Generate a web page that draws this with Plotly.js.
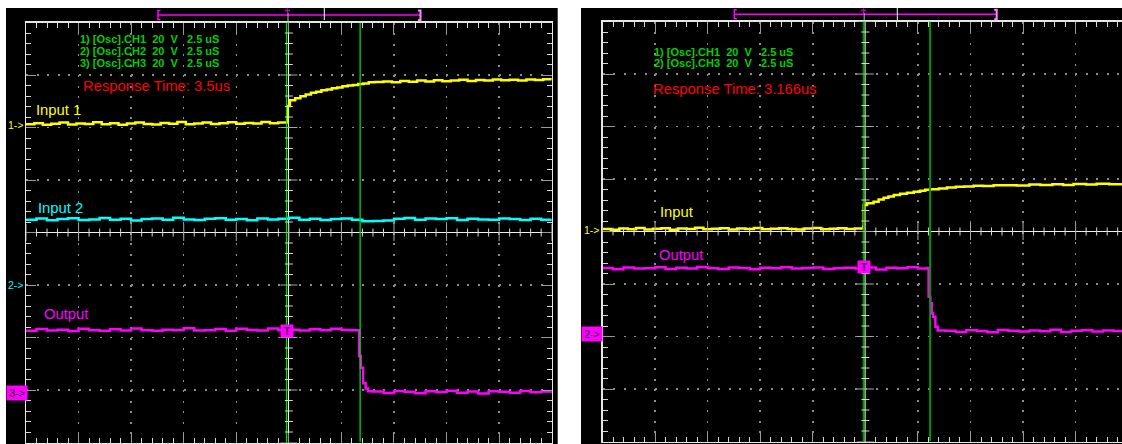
<!DOCTYPE html>
<html><head><meta charset="utf-8">
<script src="https://cdn.plot.ly/plotly-3.0.1.min.js"></script>
<style>html,body{margin:0;padding:0;background:#fff;}#chart{width:1122px;height:444px;}</style>
</head><body><div id="chart"></div>
<script>
// ---------------- DATA ----------------
const VOLTS_PER_DIV = 20;      // 20 V/div
const US_PER_DIV = 2.5;        // 2.5 us/div

// Left capture: CH1 (Input 1), CH2 (Input 2), CH3 (Output); time in us, value in V
const leftCh1T = [-12.5,-12.1,-11.7,-11.3,-10.9,-10.5,-10.1,-9.7,-9.3,-8.9,-8.5,-8.1,-7.7,-7.3,-6.9,-6.5,-6.1,-5.7,-5.3,-4.9,-4.5,-4.1,-3.7,-3.3,-2.9,-2.5,-2.1,-1.7,-1.3,-0.9,-0.5,-0.1,
  -0.05,0.05,0.3,0.55,0.8,1.05,1.3,1.55,1.8,2.05,2.3,2.55,2.8,3.05,3.3,3.55,3.8,4.1,4.5,4.9,5.3,5.7,6.1,6.5,6.9,7.3,7.7,8.1,8.5,8.9,9.3,9.7,10.1,10.5,10.9,11.3,11.7,12.1,12.5];
const leftCh1V = [0.3,0.7,0.1,0.5,0.9,0.2,0.6,0.4,1.0,0.3,0.7,0.1,0.6,0.9,0.4,0.2,0.8,0.5,1.1,0.3,0.6,0.9,0.4,0.7,1.0,0.5,0.8,0.6,1.1,0.7,0.9,1.0,
  7.2,9.4,10.2,10.9,11.6,12.3,12.7,13.2,13.5,14.0,14.3,14.8,15.0,15.2,15.6,15.8,16.3,16.4,16.6,16.3,16.8,16.5,16.9,16.6,17.0,16.7,16.9,17.2,16.8,17.1,16.9,17.3,17.0,17.2,16.9,17.3,17.1,17.4,17.2];

const leftCh2T = [-12.5,-12,-11.5,-11,-10.5,-10,-9.5,-9,-8.5,-8,-7.5,-7,-6.5,-6,-5.5,-5,-4.5,-4,-3.5,-3,-2.5,-2,-1.5,-1,-0.5,0,0.5,1,1.5,2,2.5,3,3.5,4,4.5,5,5.5,6,6.5,7,7.5,8,8.5,9,9.5,10,10.5,11,11.5,12,12.5];
const leftCh2V = [24.9,25.3,24.7,25.1,25.4,24.8,25.0,25.5,24.9,25.2,24.6,25.1,25.3,24.9,25.6,25.0,24.8,25.2,25.4,24.9,25.1,24.7,25.3,25.0,25.2,25.6,24.9,25.2,24.8,25.1,25.3,24.9,24.3,24.4,24.6,25.2,25.5,24.9,25.3,25.1,25.4,24.8,25.2,25.0,24.9,25.3,25.1,24.8,25.2,24.9,25.1];

const leftCh3T = [-12.5,-12,-11.5,-11,-10.5,-10,-9.5,-9,-8.5,-8,-7.5,-7,-6.5,-6,-5.5,-5,-4.5,-4,-3.5,-3,-2.5,-2,-1.5,-1,-0.5,0,0.5,1,1.5,2,2.5,3,3.29,
  3.34,3.42,3.53,3.65,3.77,
  4,4.5,5,5.5,6,6.5,7,7.5,8,8.5,9,9.5,10,10.5,11,11.5,12,12.5];
const leftCh3V = [23.6,24.2,23.7,24.0,23.5,24.3,23.8,23.6,24.1,23.7,24.4,23.8,23.6,24.0,23.9,24.5,23.7,23.8,24.2,23.6,24.3,23.9,23.7,24.4,23.8,24.0,23.7,24.1,23.8,24.3,23.9,23.8,23.8,
  14.0,9.5,3.6,1.6,0.5,
  0.4,-0.1,0.6,0.3,-0.2,0.5,0.2,0.7,0.0,0.4,-0.3,0.5,0.3,0.0,0.6,0.1,0.4,-0.1];

// Right capture: CH1 (Input), CH3 (Output)
const rightCh1T = [-12.5,-12.1,-11.7,-11.3,-10.9,-10.5,-10.1,-9.7,-9.3,-8.9,-8.5,-8.1,-7.7,-7.3,-6.9,-6.5,-6.1,-5.7,-5.3,-4.9,-4.5,-4.1,-3.7,-3.3,-2.9,-2.5,-2.1,-1.7,-1.3,-0.9,-0.5,-0.1,
  -0.08,0.08,0.39,0.63,0.87,1.1,1.35,1.65,1.98,2.3,2.61,2.85,3.09,3.5,3.88,4.3,4.7,5.15,5.6,6.1,6.73,7.2,7.8,8.32,8.9,9.4,9.9,10.5,11.0,11.6,12.2];
const rightCh1V = [0.2,-0.1,0.4,0.1,0.6,0.0,0.3,0.5,-0.1,0.4,0.2,0.7,0.1,0.3,0.5,0.0,0.4,0.2,0.6,0.1,0.3,0.5,0.2,0.0,0.4,0.6,0.1,0.3,0.5,0.2,0.4,1.1,
  9.3,10.0,10.6,11.4,12.1,12.6,13.1,13.6,14.0,14.4,14.8,15.1,15.3,15.6,16.0,16.3,16.4,16.7,16.6,16.9,16.9,16.8,17.1,17.0,17.2,17.0,17.3,17.1,17.4,17.2,17.3];

const rightCh3T = [-12.5,-12,-11.5,-11,-10.5,-10,-9.5,-9,-8.5,-8,-7.5,-7,-6.5,-6,-5.5,-5,-4.5,-4,-3.5,-3,-2.5,-2,-1.5,-1,-0.5,0,0.5,1,1.5,2,2.5,2.96,
  3.01,3.09,3.16,3.22,3.33,3.44,
  3.8,4.3,4.8,5.3,5.8,6.3,6.8,7.3,7.8,8.3,8.8,9.3,9.8,10.3,10.8,11.3,11.8,12.2];
const rightCh3V = [25.1,24.7,25.3,24.9,25.0,25.4,24.8,25.2,24.9,25.5,25.0,24.8,25.3,25.1,24.7,25.2,25.0,25.4,24.9,25.1,25.3,24.8,25.0,25.2,24.9,25.3,24.6,25.2,25.0,25.4,24.9,25.1,
  14.2,11.7,7.9,6.6,2.8,1.3,
  1.2,0.8,1.4,1.1,0.7,1.5,1.2,0.9,1.3,1.0,1.6,0.8,1.2,1.4,0.9,1.3,1.1,1.2];

// channel ground markers (divisions from screen centre)
const leftOffsets  = {ch1: 2.048, ch2: -1.0, ch3: -3.05};
const rightOffsets = {ch1: 0.038, ch3: -1.952};
// cursors (us)
const leftCursors  = [-0.11, 3.39];
const rightCursors = [-0.08, 3.08];
// trigger level marker (V on output channel)
const leftTrigLevel = 23.5, rightTrigLevel = 25.7;

// texts
const leftLegend  = ['1) [Osc].CH1', '2) [Osc].CH2', '3) [Osc].CH3'];
const rightLegend = ['1) [Osc].CH1', '2) [Osc].CH3'];
const chanSetting = '20', chanUnit = 'V', timeSetting = '2.5 uS';
const leftResponse = 'Response Time: 3.5us';
const rightResponse = 'Response Time: 3.166us';

// ---------------- DRAWING ----------------
const W = 1122, H = 444;
const px = x => x / W, py = y => 1 - y / H;
const FONT = 'Liberation Sans, Arial, sans-serif';
const YEL = '#ffff00', CYA = '#00ffff', MAG = '#ff00ff';
const NB = '\u00a0';

const toDiv = (vals, off) => vals.map(v => off + v / VOLTS_PER_DIV);

function trace(t, v, off, color, xa, ya) {
  return {x: t, y: toDiv(v, off), type: 'scatter', mode: 'lines',
    line: {color: color, width: 2.5, shape: 'hv'}, xaxis: xa, yaxis: ya, hoverinfo: 'skip'};
}
const data = [
  trace(leftCh2T, leftCh2V, leftOffsets.ch2, CYA, 'x', 'y'),
  trace(leftCh3T, leftCh3V, leftOffsets.ch3, MAG, 'x', 'y'),
  trace(leftCh1T, leftCh1V, leftOffsets.ch1, YEL, 'x', 'y'),
  trace(rightCh3T, rightCh3V, rightOffsets.ch3, MAG, 'x2', 'y2'),
  trace(rightCh1T, rightCh1V, rightOffsets.ch1, YEL, 'x2', 'y2')
];

function axX(domain, range, anchor, zcol, zw) {
  return {domain, range, anchor, fixedrange: true,
    tick0: 0, dtick: US_PER_DIV, ticks: 'inside', ticklen: 10, tickwidth: 1, tickcolor: '#9a9a9a',
    minor: {dtick: US_PER_DIV / 5, ticks: 'inside', ticklen: 5, tickwidth: 1, tickcolor: '#d8d8d8', showgrid: false},
    showticklabels: false, showline: true, linecolor: '#e6e6e6', linewidth: 1.5, mirror: 'ticks',
    showgrid: true, gridcolor: '#8c8c8c', gridwidth: 1.5, griddash: '2px,8.5px',
    zeroline: true, zerolinecolor: zcol, zerolinewidth: zw};
}
function axY(domain, anchor, mirror, gd) {
  return {domain, range: [-4, 4], anchor, fixedrange: true,
    tick0: 0, dtick: 1, ticks: 'inside', ticklen: 10, tickwidth: 1, tickcolor: '#9a9a9a',
    minor: {dtick: 0.2, ticks: 'inside', ticklen: 5, tickwidth: 1, tickcolor: '#d8d8d8', showgrid: false},
    showticklabels: false, showline: true, linecolor: '#e6e6e6', linewidth: 1.5, mirror: mirror,
    showgrid: true, gridcolor: '#8c8c8c', gridwidth: 1.5, griddash: gd,
    zeroline: true, zerolinecolor: '#f0f0f0', zerolinewidth: 1.2};
}

const shapes = [];
// black instrument panels
shapes.push({type: 'rect', xref: 'paper', yref: 'paper', x0: px(6), x1: px(557.7), y0: 0, y1: py(8), fillcolor: '#000', line: {width: 0}, layer: 'below'});
shapes.push({type: 'rect', xref: 'paper', yref: 'paper', x0: px(581), x1: 1, y0: 0, y1: py(8), fillcolor: '#000', line: {width: 0}, layer: 'below'});

// cursors
leftCursors.forEach(c => shapes.push({type: 'line', xref: 'x', yref: 'y', x0: c, x1: c, y0: -4, y1: 4, line: {color: '#00dd00', width: 1.3}, layer: 'above'}));
rightCursors.forEach(c => shapes.push({type: 'line', xref: 'x2', yref: 'y2', x0: c, x1: c, y0: -4, y1: 4, line: {color: '#009a00', width: 2}, layer: 'above'}));

// centre-line cross ticks
function centreTicks(xr, yr, tmax) {
  let minor = '', major = '';
  const pxPerUs = 52.57 / US_PER_DIV, pxPerDiv = 52.5;
  for (let k = -25; k <= 25; k++) {
    const t = k * US_PER_DIV / 5;
    if (t > tmax + 1e-9) continue;
    const isMaj = k % 5 === 0;
    const h = (isMaj ? 8.5 : 4) / pxPerDiv;
    const s = `M${t},${-h}L${t},${h}`;
    if (isMaj) major += s; else minor += s;
  }
  for (let j = -20; j <= 20; j++) {
    const y = j * 0.2;
    const isMaj = j % 5 === 0;
    const w = (isMaj ? 8.5 : 4) / pxPerUs;
    const s = `M${-w},${y}L${w},${y}`;
    if (isMaj) major += s; else minor += s;
  }
  shapes.push({type: 'path', xref: xr, yref: yr, path: minor, line: {color: '#d8d8d8', width: 1}, layer: 'above'});
  shapes.push({type: 'path', xref: xr, yref: yr, path: major, line: {color: '#a8a8a8', width: 1}, layer: 'above'});
}
centreTicks('x', 'y', 12.5);
centreTicks('x2', 'y2', 12.2);

// top memory strip
function P(x, y) { return `${px(x)},${py(y)}`; }
function strip(x0, x1, y, xTrig, xWhite) {
  const pp = (d, col, w) => shapes.push({type: 'path', xref: 'paper', yref: 'paper', path: d, line: {color: col, width: w}, layer: 'above'});
  pp(`M${P(x0, y)}L${P(x1, y)}`, MAG, 1.5);
  pp(`M${P(x0 + 2.5, y - 4.5)}L${P(x0, y - 4.5)}L${P(x0, y + 4.5)}L${P(x0 + 2.5, y + 4.5)}`, MAG, 1.5);
  pp(`M${P(x1 - 2.5, y - 4.5)}L${P(x1, y - 4.5)}L${P(x1, y + 5)}L${P(x1 - 2.5, y + 5)}`, '#ff88ff', 2);
  pp(`M${P(xWhite, 8)}L${P(xWhite, 20)}`, '#ffffff', 1);
  pp(`M${P(xTrig + 0.5, 13)}L${P(xTrig + 0.5, 22)}`, '#bbbbbb', 1);
  pp(`M${P(xTrig, 8.5)}L${P(xTrig, 13)}M${P(xTrig - 2.5, 10.5)}L${P(xTrig + 2.5, 10.5)}`, '#c000c0', 1.5);
}
strip(158, 420.5, 15, 287.5, 324.3);
strip(734.3, 996.7, 14.3, 863.7, 897.3);

// annotations
const annotations = [];
function txt(text, x, y, color, size, weight) {
  annotations.push({text, xref: 'paper', yref: 'paper', x: px(x), y: py(y),
    xanchor: 'left', yanchor: 'middle', showarrow: false, borderpad: 0,
    font: {family: FONT, size, color, weight: weight || 'normal'}});
}
const legendLine = name => name + NB + NB + chanSetting + NB + NB + chanUnit + NB + NB + NB + timeSetting;
leftLegend.forEach((n, i) => txt(legendLine(n), 79, 39.3 + i * 11.7, '#00d000', 11, 'bold'));
rightLegend.forEach((n, i) => txt(legendLine(n), 652.5, 51.7 + i * 11.7, '#00d000', 11, 'bold'));
txt(leftResponse, 81.5, 86, '#ff0000', 14.8);
txt(rightResponse, 652.2, 89, '#ff0000', 14.8);
txt('Input 1', 35, 110.5, YEL, 14.8);
txt('Input 2', 36.5, 207.5, CYA, 14.8);
txt('Output', 42.5, 313.5, MAG, 14.8);
txt('Input', 659, 211.7, YEL, 14.8);
txt('Output', 658, 255.3, MAG, 14.8);

// channel markers
function chMark(text, xPx, yref, off, color, boxed) {
  const a = {text, xref: 'paper', yref, x: px(xPx), y: off, xanchor: 'left', yanchor: 'middle',
    showarrow: false, borderpad: 0, font: {family: FONT, size: 10.5, color: boxed ? '#1a001a' : color}};
  if (boxed) Object.assign(a, {bgcolor: color, width: 20, height: 14, align: 'center'});
  annotations.push(a);
}
chMark('1->', 7, 'y', leftOffsets.ch1, YEL, false);
chMark('2->', 7, 'y', leftOffsets.ch2, CYA, false);
chMark('3->', 6, 'y', leftOffsets.ch3, MAG, true);
chMark('1->', 582.5, 'y2', rightOffsets.ch1, YEL, false);
chMark('2->', 581, 'y2', rightOffsets.ch3, MAG, true);

// trigger "T" markers
function trig(xr, yr, t, y) {
  annotations.push({text: '<b>T</b>', xref: xr, yref: yr, x: t, y: y, xanchor: 'center', yanchor: 'middle',
    showarrow: false, bgcolor: MAG, width: 11, height: 11, borderpad: 0.5,
    font: {family: FONT, size: 10, color: '#4a004a'}});
}
trig('x', 'y', leftCursors[0], leftOffsets.ch3 + leftTrigLevel / VOLTS_PER_DIV);
trig('x2', 'y2', rightCursors[0], rightOffsets.ch3 + rightTrigLevel / VOLTS_PER_DIV);

const layout = {
  width: W, height: H, autosize: false,
  margin: {l: 0, r: 0, t: 0, b: 0, pad: 0},
  paper_bgcolor: '#ffffff', plot_bgcolor: '#000000',
  showlegend: false, hovermode: false,
  xaxis: axX([px(26), px(551.7)], [-12.5, 12.5], 'y', '#f0f0f0', 1),
  yaxis: axY([1.5 / H, 421.5 / H], 'x', 'ticks', '2px,8.51px'),
  xaxis2: axX([px(602.5), 1], [-12.5, 12.205], 'y2', '#9a9a9a', 2),
  yaxis2: axY([2.5 / H, 422.5 / H], 'x2', false, '2px,8.51px'),
  shapes, annotations
};
Plotly.newPlot('chart', data, layout, {staticPlot: true, displayModeBar: false});
</script>
</body></html>
